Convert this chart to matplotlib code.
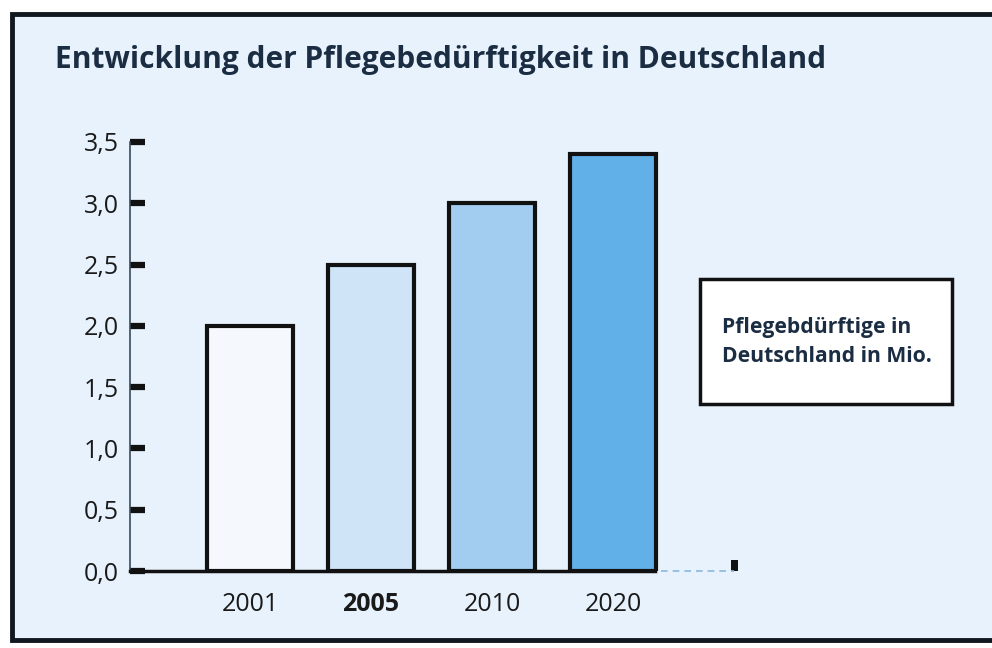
import matplotlib
matplotlib.use("Agg")
import matplotlib.pyplot as plt
from matplotlib.patches import Rectangle

plt.rcParams['font.family'] = ['Open Sans', 'DejaVu Sans']

years = ["2001", "2005", "2010", "2020"]
values = [2.0, 2.5, 3.0, 3.4]
bar_colors = ["#f5f9fe", "#cfe4f7", "#a3cdf0", "#62b0e8"]
yticks = [0.0, 0.5, 1.0, 1.5, 2.0, 2.5, 3.0, 3.5]
ytick_labels = ["0,0", "0,5", "1,0", "1,5", "2,0", "2,5", "3,0", "3,5"]
title = "Entwicklung der Pflegebedürftigkeit in Deutschland"
legend_text = "Pflegebdürftige in\nDeutschland in Mio."

W, H = 992, 648
fig = plt.figure(figsize=(W / 100, H / 100), dpi=100)
fig.patch.set_facecolor("white")

# outer panel
panel = Rectangle((12 / W, 8 / H), (W - 10) / W, (H - 22) / H, transform=fig.transFigure,
                  facecolor="#e8f2fc", edgecolor="#111820", linewidth=3.5, zorder=-5)
fig.patches.append(panel)

fig.text(55 / W, 1 - 60 / H, title, fontsize=21.5, fontweight="bold", color="#1b2d42",
         ha="left", va="center")

ax = fig.add_axes([130 / W, 1 - 571 / H, 610 / W, (571 - 142) / H])
ax.set_zorder(2)
ax.set_facecolor("none")
x = list(range(len(years)))
ax.bar(x, values, width=0.71, color=bar_colors, edgecolor="#111111", linewidth=3, zorder=3)

ax.set_xlim(-0.992, 4.05)
ax.set_ylim(0, 3.5)
ax.set_yticks(yticks)
ax.set_yticklabels(ytick_labels)
ax.set_xticks(x)
ax.set_xticklabels(years)
for lbl in ax.get_xticklabels():
    if lbl.get_text() == "2005":
        lbl.set_fontweight("bold")

ax.tick_params(axis="y", direction="in", length=11, width=4.5, color="#111111",
               labelsize=18, labelcolor="#1a1a1a", pad=8)
ax.tick_params(axis="x", length=0, labelsize=18, labelcolor="#1a1a1a", pad=15)

for s in ["top", "right"]:
    ax.spines[s].set_visible(False)
ax.spines["left"].set_color("#3a4a5a")
ax.spines["left"].set_linewidth(1.2)
ax.spines["bottom"].set_color("#111111")
ax.spines["bottom"].set_linewidth(2.5)
ax.spines["bottom"].set_bounds(-0.992, 3.35)
ax.plot([3.4, 4.0], [0, 0], color="#8ab8dc", linewidth=1.2, linestyle=(0, (4, 3)),
        clip_on=False, zorder=2)
ax.add_patch(Rectangle((0.985, 0.0), 0.012, 0.025, transform=ax.transAxes,
                       facecolor="#111111", edgecolor="none", clip_on=False))

# legend-like box
box = Rectangle((700 / W, 1 - 404 / H), 252 / W, 125 / H, transform=fig.transFigure,
                facecolor="white", edgecolor="#111111", linewidth=2.5, zorder=5)
fig.patches.append(box)
fig.text(722 / W, 1 - 342 / H, legend_text, fontsize=15.2, fontweight="bold",
         color="#1b2d42", ha="left", va="center", linespacing=1.45, zorder=6)

fig.savefig("out.png", dpi=100, facecolor=fig.get_facecolor())
